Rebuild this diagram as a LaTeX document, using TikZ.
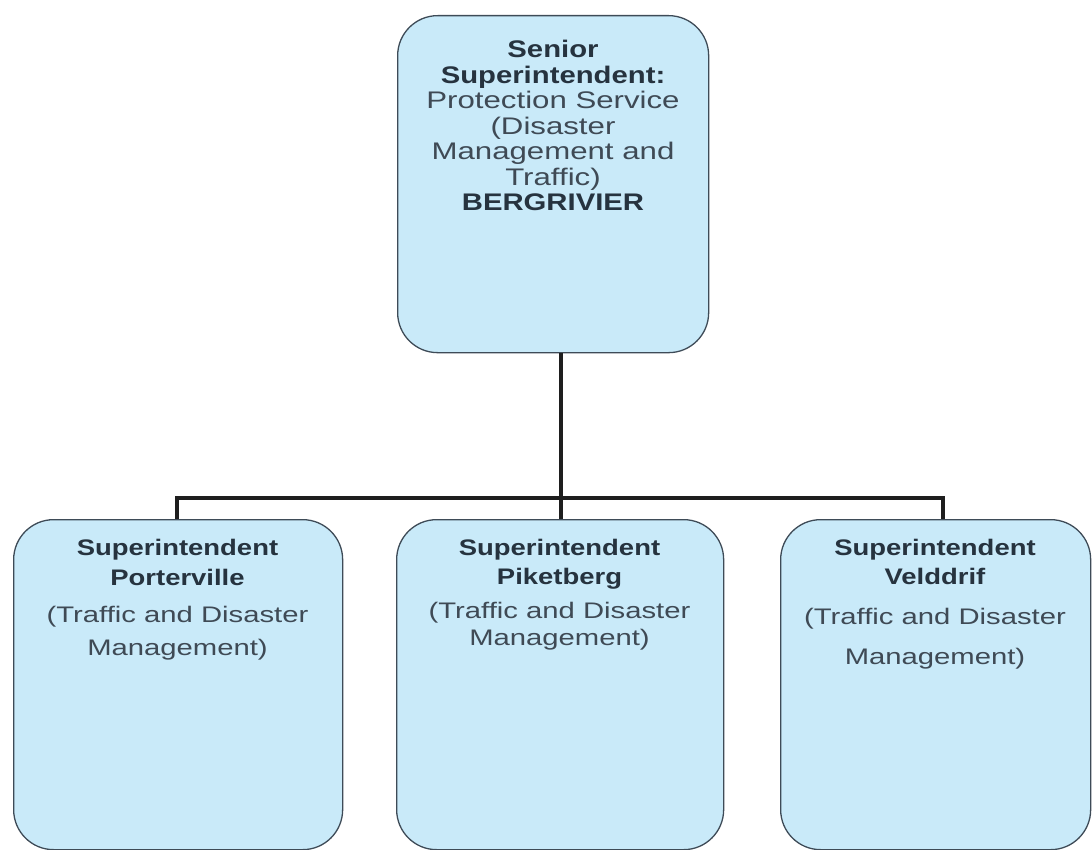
\documentclass[tikz,border=0pt]{standalone}
\usepackage{fontspec}
\setmainfont{Liberation Sans}[FakeStretch=1.3]
\newfontfamily\bnarrow{Liberation Sans}[FakeStretch=1.22]
\usetikzlibrary{positioning}
\definecolor{boxfill}{HTML}{C9EAF9}
\definecolor{boxline}{HTML}{3E4B57}
\definecolor{txtdark}{HTML}{26333F}
\definecolor{txtreg}{HTML}{3F4A55}
\definecolor{connline}{HTML}{1E1E1E}
\newcommand{\hb}[1]{{\bnarrow\bfseries\color{txtdark}#1}}
\tikzset{
  orgbox/.style={draw=boxline, line width=1.3pt, fill=boxfill, rounded corners=40pt, inner sep=0pt, anchor=north west},
  toptext/.style={align=center, anchor=north, inner sep=0pt, text=txtreg, font=\fontsize{24}{25.5}\selectfont},
  bottext/.style={align=center, anchor=north, inner sep=0pt, text=txtreg, font=\fontsize{22.5}{29}\selectfont},
  conn/.style={draw=connline, line width=3.4pt}
}
\begin{document}
\begin{tikzpicture}[x=1pt,y=-1pt]
\useasboundingbox (0,0) rectangle (1092,850);
\node[orgbox, minimum width=311pt, minimum height=337pt] (top) at (397,15) {};
\node[orgbox, minimum width=329pt, minimum height=330pt] (left) at (13,519) {};
\node[orgbox, minimum width=327pt, minimum height=330pt] (mid) at (396,519) {};
\node[orgbox, minimum width=310pt, minimum height=330pt] (right) at (780,519) {};
\node[toptext] (toplbl) at (553,40) {\hb{Senior}\\\hb{Superintendent:}\\Protection Service\\(Disaster\\Management and\\Traffic)\\\hb{BERGRIVIER}};
\node[bottext] (leftlbl) at (177.5,539) {\hb{Superintendent}\\[1pt]\hb{Porterville}\\[8pt](Traffic and Disaster\\[4pt]Management)};
\node[bottext] (midlbl) at (559.5,539) {\hb{Superintendent}\\\hb{Piketberg}\\[5pt](Traffic and Disaster\\[-2pt]Management)};
\node[bottext] (rightlbl) at (935,539) {\hb{Superintendent}\\\hb{Velddrif}\\[11pt](Traffic and Disaster\\[11pt]Management)};
\coordinate (jm) at (561,498);
\coordinate (jl) at (177,498);
\coordinate (jr) at (943,498);
\draw[conn] (top.south -| jm) -- (mid.north -| jm);
\draw[conn] (left.north -| jl) -- (jl) -- (jr) -- (right.north -| jr);
\end{tikzpicture}
\end{document}
